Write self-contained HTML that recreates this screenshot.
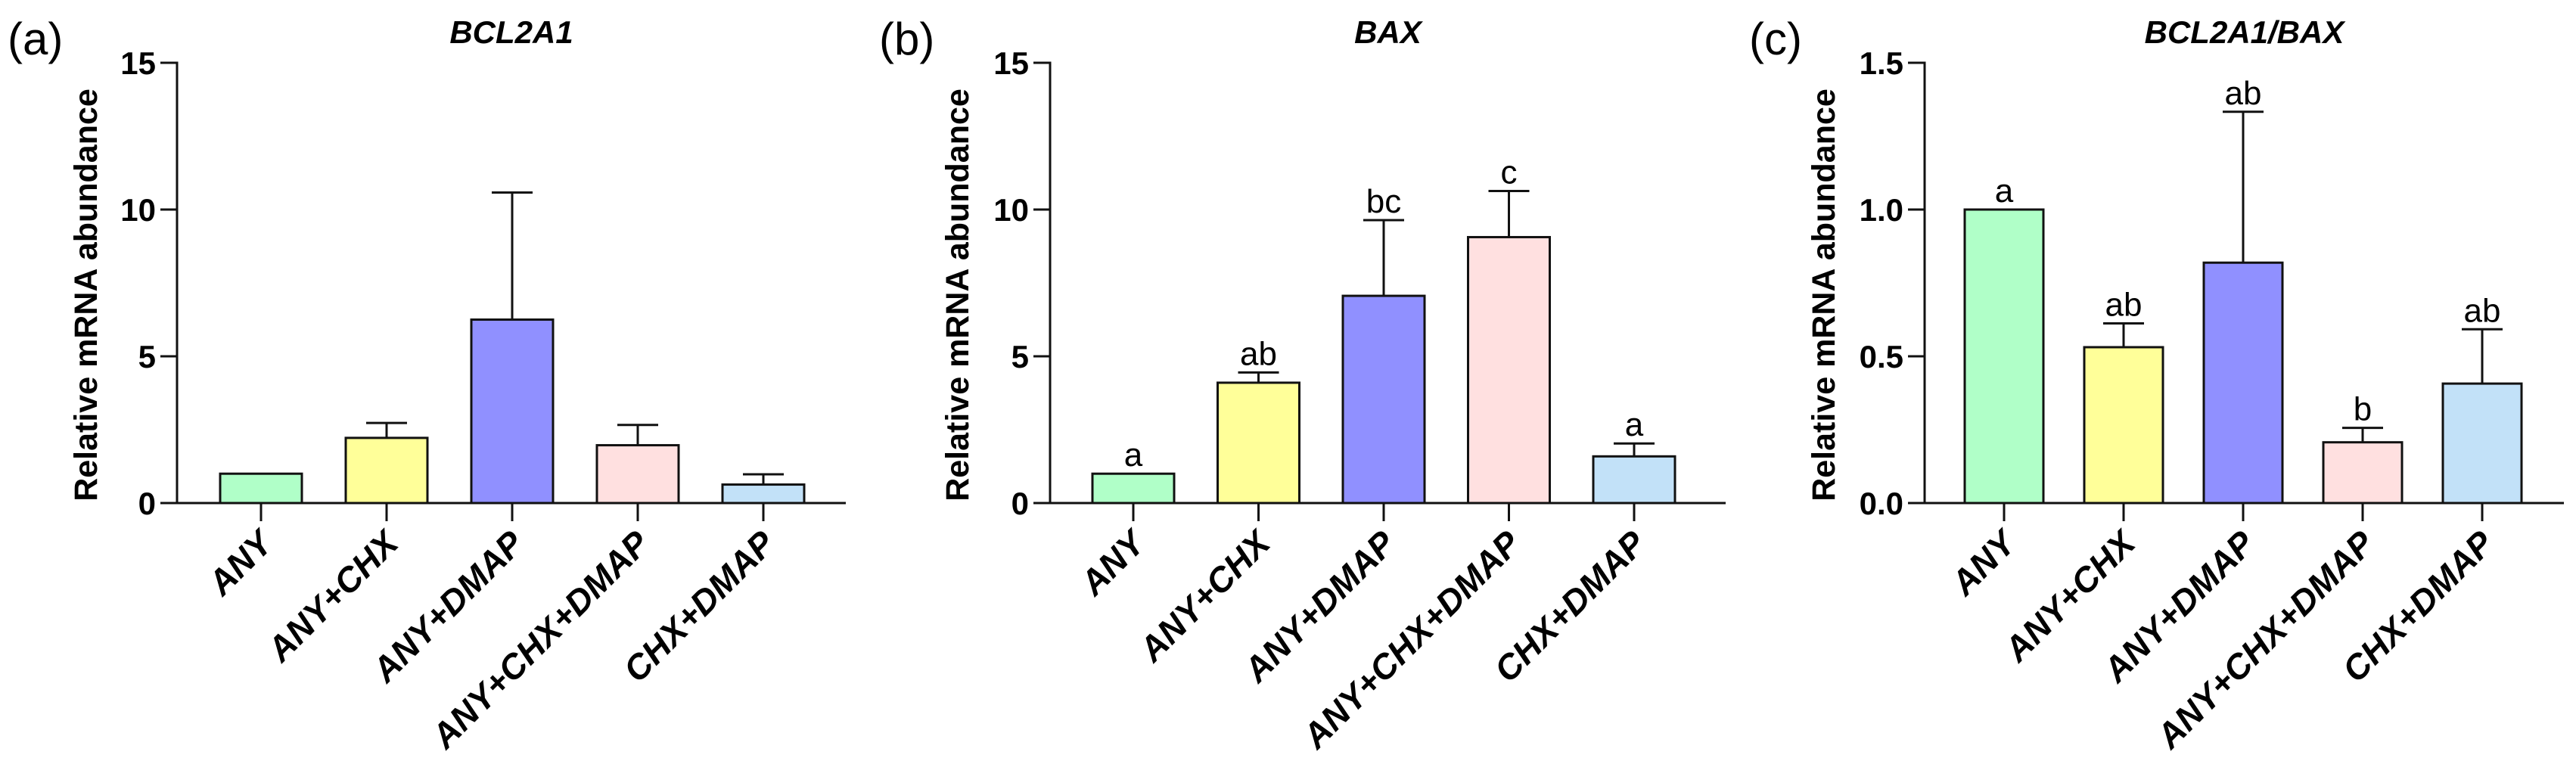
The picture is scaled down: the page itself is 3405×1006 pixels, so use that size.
<!DOCTYPE html>
<html><head><meta charset="utf-8"><style>
html,body{margin:0;padding:0;background:#fff;}
svg{display:block;font-family:"Liberation Sans",Arial,sans-serif;}
</style></head><body>
<svg id="fig" width="3405" height="1006" viewBox="0 0 3405 1006" xmlns="http://www.w3.org/2000/svg"></svg>
<script>
const categories = ["ANY","ANY+CHX","ANY+DMAP","ANY+CHX+DMAP","CHX+DMAP"];
const colors = ["#b0ffc8","#ffff99","#9090ff","#ffe0e0","#c2e1f8"];
const bcl2a1Values = [1.0, 2.22, 6.25, 1.97, 0.63];
const bcl2a1Errors = [0, 0.51, 4.33, 0.69, 0.35];
const bcl2a1Letters = ["","","","",""];
const baxValues = [1.0, 4.10, 7.06, 9.06, 1.59];
const baxErrors = [0, 0.35, 2.58, 1.57, 0.44];
const baxLetters = ["a","ab","bc","c","a"];
const ratioValues = [1.0, 0.531, 0.819, 0.207, 0.407];
const ratioErrors = [0, 0.081, 0.514, 0.049, 0.185];
const ratioLetters = ["a","ab","ab","b","ab"];
const ticks15 = [0,5,10,15];
const ticks15Labels = ["0","5","10","15"];
const ticks1p5 = [0,0.5,1.0,1.5];
const ticks1p5Labels = ["0.0","0.5","1.0","1.5"];

const NS="http://www.w3.org/2000/svg";
const svg=document.getElementById('fig');
function mk(tag,attrs,parent){const e=document.createElementNS(NS,tag);for(const k in attrs)e.setAttribute(k,attrs[k]);(parent||svg).appendChild(e);return e;}

const panels=[
 {key:"a",label:"(a)",lx:10,title:"BCL2A1",ax:234,xend:1118,first:345,step:166,bw:108,max:15,ticks:ticks15,tl:ticks15Labels,vals:bcl2a1Values,errs:bcl2a1Errors,lets:bcl2a1Letters,ytx:113},
 {key:"b",label:"(b)",lx:1162,title:"BAX",ax:1388,xend:2281,first:1498,step:165.5,bw:108,max:15,ticks:ticks15,tl:ticks15Labels,vals:baxValues,errs:baxErrors,lets:baxLetters,ytx:1265},
 {key:"c",label:"(c)",lx:2312,title:"BCL2A1/BAX",ax:2544,xend:3389,first:2649,step:158,bw:104,max:1.5,ticks:ticks1p5,tl:ticks1p5Labels,vals:ratioValues,errs:ratioErrors,lets:ratioLetters,ytx:2410}
];
const Y0=665, YTOP=83;
panels.forEach(p=>{
  const g=mk('g',{});
  
  
  const y=v=>Y0-(v/p.max)*(Y0-YTOP);
  const x=i=>p.first+i*p.step;
  const pl=mk('text',{x:p.lx,y:72,'font-size':60},g);pl.textContent=p.label;
  
  const t=mk('text',{x:(p.ax+p.xend)/2,y:57,'font-size':42,'font-weight':'bold','font-style':'italic','text-anchor':'middle'},g);t.textContent=p.title;
  
  const yt=mk('text',{x:0,y:0,'font-size':43,'font-weight':'bold','text-anchor':'middle',transform:`translate(${p.ytx+15},${(Y0+99)/2+8}) rotate(-90)`},g);yt.textContent="Relative mRNA abundance";
  
  p.vals.forEach((v,i)=>{
    const cx=x(i);
    if(p.errs[i]>0){
      const e=mk('path',{d:`M${cx},${y(v)} V${y(v+p.errs[i])} M${cx-27},${y(v+p.errs[i])} H${cx+27}`,stroke:'#111','stroke-width':3,fill:'none'},g);
      
    }
    const b=mk('rect',{x:cx-p.bw/2,y:y(v),width:p.bw,height:Y0-y(v),fill:colors[i],stroke:'#111','stroke-width':3},g);
    
    if(p.lets[i]){
      const lt=mk('text',{x:cx,y:y(v+p.errs[i])-10,'font-size':44,'text-anchor':'middle'},g);lt.textContent=p.lets[i];
      
    }
    const tk=mk('line',{x1:cx,y1:Y0,x2:cx,y2:Y0+24,stroke:'#111','stroke-width':3},g);
    
    const xl=mk('text',{x:0,y:0,'font-size':46,'font-weight':'bold','font-style':'italic','text-anchor':'end',transform:`translate(${cx+18},${Y0+56}) rotate(-45)`},g);xl.textContent=categories[i];
    
  });
  const ya=mk('line',{x1:p.ax,y1:YTOP-1.5,x2:p.ax,y2:Y0+1.5,stroke:'#111','stroke-width':3},g);
  
  const xa=mk('line',{x1:p.ax-22,y1:Y0,x2:p.xend,y2:Y0,stroke:'#111','stroke-width':3},g);
  
  p.ticks.forEach((tv,j)=>{
    const l=mk('line',{x1:p.ax-22,y1:y(tv),x2:p.ax,y2:y(tv),stroke:'#111','stroke-width':3},g);
    
    const tx=mk('text',{x:p.ax-28,y:y(tv)+15,'font-size':42,'font-weight':'bold','text-anchor':'end'},g);tx.textContent=p.tl[j];
    
  });
});
</script>
</body></html>
